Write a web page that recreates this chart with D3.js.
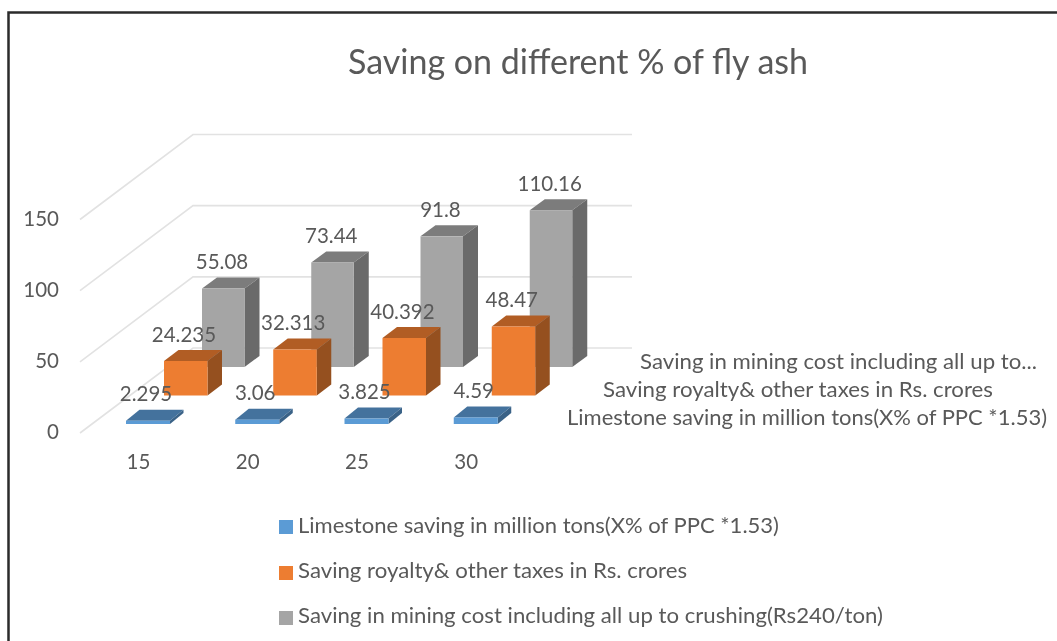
<!DOCTYPE html>
<html>
<head>
<meta charset="utf-8">
<script src="https://cdn.jsdelivr.net/npm/d3@7"></script>
<style>
  html, body { margin: 0; padding: 0; background: #fff; }
  svg { display: block; filter: blur(0.4px); }
  text { font-family: Lato, "Open Sans", sans-serif; fill: #595959; }
</style>
</head>
<body>
<script>
var categories = ["15", "20", "25", "30"];
var seriesNames = [
  "Limestone saving in million tons(X% of PPC *1.53)",
  "Saving royalty& other taxes in Rs. crores",
  "Saving in mining cost including all up to crushing(Rs240/ton)"
];
var depthLabels = [
  "Limestone saving in million tons(X% of PPC *1.53)",
  "Saving royalty& other taxes in Rs. crores",
  "Saving in mining cost including all up to..."
];
var limestone = [2.295, 3.06, 3.825, 4.59];
var royalty = [24.235, 32.313, 40.392, 48.47];
var mining = [55.08, 73.44, 91.8, 110.16];
var valueTicks = [0, 50, 100, 150];
var seriesValues = [limestone, royalty, mining];

var outerWidth = 1057;
var outerHeight = 641;
var labelSize = 20.5;

// front and top/side shades for each series
var frontColors = ["#5b9bd5", "#ed7d31", "#a5a5a5"];
var topColors = ["#44729d", "#b15d24", "#7c7c7c"];
var sideColors = ["#3a6287", "#95501f", "#6a6a6a"];

var svg = d3
  .select("body")
  .append("svg")
  .attr("width", outerWidth)
  .attr("height", outerHeight);

// picture frame
svg.append("path")
  .attr("d", "M8.5,641 V12.5 H1057")
  .attr("fill", "none")
  .attr("stroke", "#2b2b2b")
  .attr("stroke-width", 2.5);

// floor: series go back along depth, categories go right
var xScale = d3.scaleBand().domain(categories).range([115.5, 552.5]);
var yScale = d3.scaleLinear().domain([0, 150]).range([0, 213.5]);
var depthX = d3.scalePoint().domain([0, 1, 2]).range([0, 76]);
var depthY = d3.scalePoint().domain([0, 1, 2]).range([424, 367]);
// bars get a little smaller and deeper toward the back
var barWidth = [44, 43.5, 42.5];
var barDx = [13.5, 14.5, 15];
var barDy = 11;

var floorX = 80, floorY = 433, backX = 193, backY = 348, backRight = 632;

// gridlines
svg.append("g")
  .selectAll("path")
  .data(valueTicks)
  .enter()
  .append("path")
  .attr("d", (d) =>
    "M" + floorX + "," + (floorY - yScale(d)) +
    " L" + backX + "," + (backY - yScale(d)) +
    " H" + backRight)
  .attr("fill", "none")
  .attr("stroke", "#e2e2e2")
  .attr("stroke-width", 1.6);

// value axis labels
svg.append("g")
  .selectAll("text")
  .data(valueTicks)
  .enter()
  .append("text")
  .attr("x", 59)
  .attr("y", (d) => floorY - yScale(d) + 6)
  .attr("text-anchor", "end")
  .attr("font-size", labelSize)
  .text((d) => d);

// category labels
svg.append("g")
  .selectAll("text")
  .data(categories)
  .enter()
  .append("text")
  .attr("x", (d) => xScale(d) + 11)
  .attr("y", 469)
  .attr("font-size", labelSize)
  .text((d) => d);

function barLeft(s, cat) {
  return xScale(cat) + depthX(s) + 10.5;
}

function drawBar(g, s, cat, value) {
  var x0 = barLeft(s, cat);
  var y0 = depthY(s);
  var h = yScale(value);
  var top = y0 - h;
  g.append("path")
    .attr("d", "M" + x0 + "," + top + " h" + barWidth[s] +
      " l" + barDx[s] + "," + (-barDy) + " h" + (-barWidth[s]) + " Z")
    .attr("fill", topColors[s]);
  g.append("path")
    .attr("d", "M" + (x0 + barWidth[s]) + "," + y0 + " V" + top +
      " l" + barDx[s] + "," + (-barDy) + " V" + (y0 - barDy) + " Z")
    .attr("fill", sideColors[s]);
  g.append("rect")
    .attr("x", x0)
    .attr("y", top)
    .attr("width", barWidth[s])
    .attr("height", h)
    .attr("fill", frontColors[s]);
}

// back series first so the nearer bars cover them
var bars = svg.append("g");
[2, 1, 0].forEach(function (s) {
  categories.forEach(function (cat, i) {
    drawBar(bars, s, cat, seriesValues[s][i]);
  });
});

// data labels
var labels = svg.append("g");
[2, 1, 0].forEach(function (s) {
  categories.forEach(function (cat, i) {
    labels.append("text")
      .attr("x", barLeft(s, cat) + 20)
      .attr("y", depthY(s) - yScale(seriesValues[s][i]) - 19.5)
      .attr("text-anchor", "middle")
      .attr("font-size", labelSize)
      .text(seriesValues[s][i]);
  });
});

// depth axis labels
var depthLabelX = [567, 603, 640];
var depthLabelY = [425, 397, 369];
var depthLabelWidth = [480, 390, 397];
svg.append("g")
  .selectAll("text")
  .data(depthLabels)
  .enter()
  .append("text")
  .attr("x", (d, i) => depthLabelX[i])
  .attr("y", (d, i) => depthLabelY[i])
  .attr("font-size", labelSize)
  .attr("textLength", (d, i) => depthLabelWidth[i])
  .attr("lengthAdjust", "spacingAndGlyphs")
  .text((d) => d);

svg.append("text")
  .attr("x", 348)
  .attr("y", 74)
  .attr("font-size", 34)
  .attr("textLength", 460)
  .attr("lengthAdjust", "spacingAndGlyphs")
  .text("Saving on different % of fly ash");

// legend
var legendSwatchY = [520, 566, 611];
var legendTextY = [533, 578, 623];
var legendWidth = [481, 389, 585];
var legend = svg.append("g");
seriesNames.forEach(function (name, i) {
  legend.append("rect")
    .attr("x", 279)
    .attr("y", legendSwatchY[i])
    .attr("width", 14)
    .attr("height", 14)
    .attr("fill", frontColors[i]);
  legend.append("text")
    .attr("x", 298)
    .attr("y", legendTextY[i])
    .attr("font-size", labelSize)
    .attr("textLength", legendWidth[i])
    .attr("lengthAdjust", "spacingAndGlyphs")
    .text(name);
});
</script>
</body>
</html>
